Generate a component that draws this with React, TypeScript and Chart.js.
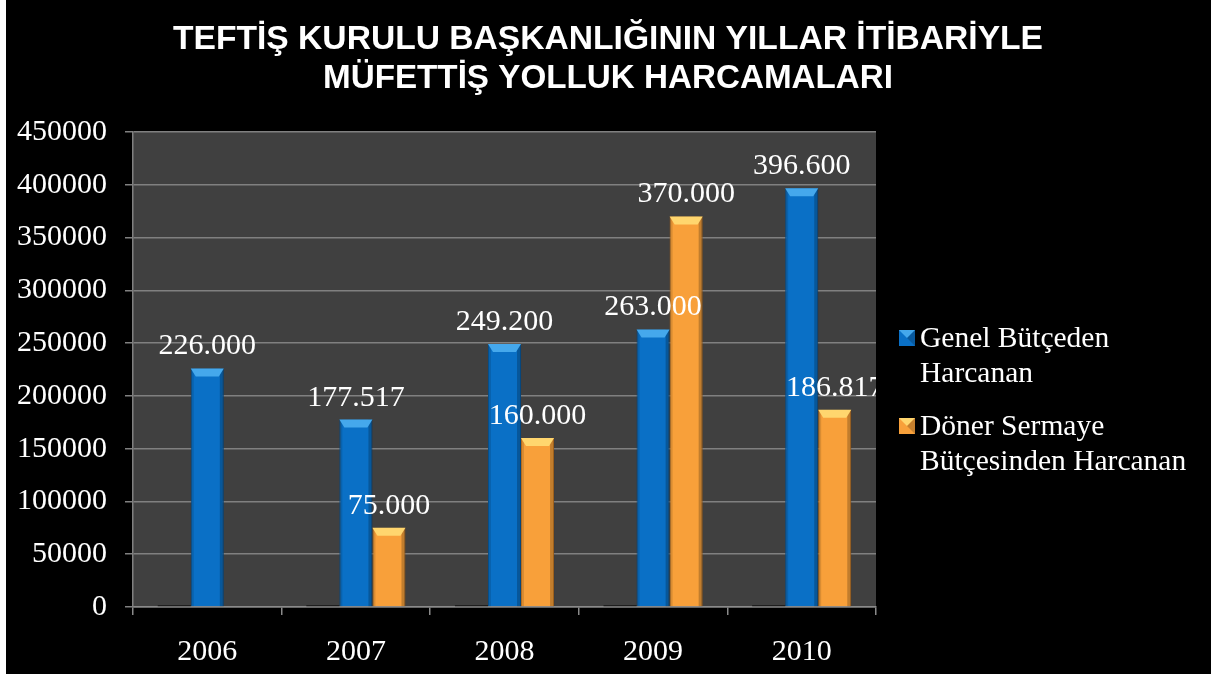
import React, { useEffect, useRef } from "react";
import { Chart, registerables } from "chart.js";

Chart.register(...registerables);

const categories = ["2006", "2007", "2008", "2009", "2010"];
const yearSeries = [2006, 2007, 2008, 2009, 2010];
const genelValues = [226000, 177517, 249200, 263000, 396600];
const donerValues = [0, 75000, 160000, 370000, 186817];
const legendLines = [
  ["Genel Bütçeden", "Harcanan"],
  ["Döner Sermaye", "Bütçesinden Harcanan"],
];
const titleLines = [
  "TEFTİŞ KURULU BAŞKANLIĞININ YILLAR İTİBARİYLE",
  "MÜFETTİŞ YOLLUK HARCAMALARI",
];

const SERIF = "'Liberation Serif', 'Times New Roman', serif";
const BLUE = "#0a70c6";
const BLUE_TOP = "#45a8ec";
const ORANGE = "#f8a03a";
const ORANGE_TOP = "#ffd66e";

function fmt(v: number) {
  return String(v).replace(/\B(?=(\d{3})+(?!\d))/g, ".");
}

const bgPlugin = {
  id: "bg",
  beforeDraw(chart: any) {
    const { ctx, chartArea: a, width, height } = chart;
    ctx.save();
    ctx.fillStyle = "#000";
    ctx.fillRect(0, 0, width, height);
    ctx.fillStyle = "#404040";
    ctx.fillRect(a.left, a.top, a.right - a.left, a.bottom - a.top);
    ctx.fillStyle = "#fff";
    ctx.fillRect(0, 0, 6, height);
    ctx.restore();
  },
};

const titlePlugin = {
  id: "customTitle",
  afterDraw(chart: any) {
    const { ctx } = chart;
    ctx.save();
    ctx.fillStyle = "#fff";
    ctx.font = "bold 34px 'Liberation Sans', Arial, sans-serif";
    ctx.textBaseline = "alphabetic";
    ctx.textAlign = "left";
    const targets = [870, 570];
    const baselines = [49, 88];
    const cx = 608;
    titleLines.forEach((t, i) => {
      const w = ctx.measureText(t).width;
      const s = targets[i] / w;
      ctx.save();
      ctx.translate(cx - targets[i] / 2, baselines[i]);
      ctx.scale(s, 1);
      ctx.fillText(t, 0, 0);
      ctx.restore();
    });
    ctx.restore();
  },
};

const bevelPlugin = {
  id: "bevel",
  afterDatasetsDraw(chart: any) {
    const { ctx } = chart;
    [1, 2].forEach((di) => {
      const meta = chart.getDatasetMeta(di);
      const topC = di === 1 ? BLUE_TOP : ORANGE_TOP;
      meta.data.forEach((bar: any) => {
        const { x, y, base, width } = bar.getProps(["x", "y", "base", "width"], true);
        const h = base - y;
        if (h <= 1) return;
        const l = x - width / 2;
        const r = x + width / 2;
        ctx.save();
        ctx.fillStyle = "rgba(0,0,0,0.12)";
        ctx.fillRect(l, y, 3, h);
        ctx.fillStyle = "rgba(0,0,0,0.22)";
        ctx.fillRect(r - 4, y, 4, h);
        const bh = Math.min(8, h);
        ctx.fillStyle = topC;
        ctx.beginPath();
        ctx.moveTo(l, y);
        ctx.lineTo(r, y);
        ctx.lineTo(r - 5, y + bh);
        ctx.lineTo(l + 5, y + bh);
        ctx.closePath();
        ctx.fill();
        ctx.restore();
      });
    });
  },
};

const labelPlugin = {
  id: "valueLabels",
  afterDatasetsDraw(chart: any) {
    const { ctx, chartArea: a } = chart;
    ctx.save();
    ctx.beginPath();
    ctx.rect(a.left, 0, a.right - a.left, a.bottom);
    ctx.clip();
    ctx.fillStyle = "#fff";
    ctx.font = `30px ${SERIF}`;
    ctx.textAlign = "center";
    ctx.textBaseline = "alphabetic";
    [1, 2].forEach((di) => {
      const meta = chart.getDatasetMeta(di);
      const vals = chart.data.datasets[di].data;
      meta.data.forEach((bar: any, i: number) => {
        const v = vals[i];
        if (!v) return;
        ctx.fillText(fmt(v), bar.x, bar.y - 14);
      });
    });
    ctx.restore();
  },
};

const legendPlugin = {
  id: "customLegend",
  afterDraw(chart: any) {
    const { ctx } = chart;
    ctx.save();
    ctx.font = `29.5px ${SERIF}`;
    ctx.fillStyle = "#fff";
    ctx.textBaseline = "middle";
    ctx.textAlign = "left";
    const colors = [
      [BLUE, BLUE_TOP],
      [ORANGE, ORANGE_TOP],
    ];
    const starts = [339, 427];
    legendLines.forEach((lines, i) => {
      const y0 = starts[i];
      const bx = 899;
      const by = y0 - 9;
      const s = 16;
      ctx.fillStyle = colors[i][0];
      ctx.fillRect(bx, by, s, s);
      ctx.fillStyle = colors[i][1];
      ctx.beginPath();
      ctx.moveTo(bx, by);
      ctx.lineTo(bx + s, by);
      ctx.lineTo(bx + s / 2, by + s / 2);
      ctx.closePath();
      ctx.fill();
      ctx.fillStyle = "rgba(0,0,0,0.2)";
      ctx.beginPath();
      ctx.moveTo(bx + s, by);
      ctx.lineTo(bx + s, by + s);
      ctx.lineTo(bx + s / 2, by + s / 2);
      ctx.closePath();
      ctx.fill();
      ctx.fillStyle = "#fff";
      lines.forEach((ln, j) => {
        ctx.fillText(ln, 920, y0 + j * 35);
      });
    });
    ctx.restore();
  },
};

export default function App() {
  const ref = useRef<HTMLCanvasElement | null>(null);
  useEffect(() => {
    document.body.style.margin = "0";
    document.body.style.background = "#000";
    if (!ref.current) return;
    const chart = new Chart(ref.current, {
      type: "bar",
      data: {
        labels: categories,
        datasets: [
          {
            label: "Yıl",
            data: yearSeries,
            backgroundColor: "#1e1e1e",
            borderWidth: 0,
          },
          {
            label: "Genel Bütçeden Harcanan",
            data: genelValues,
            backgroundColor: BLUE,
            borderColor: "#0a5a9e",
            borderWidth: 1,
          },
          {
            label: "Döner Sermaye Bütçesinden Harcanan",
            data: donerValues,
            backgroundColor: ORANGE,
            borderColor: "#d07d22",
            borderWidth: 1,
          },
        ],
      },
      options: {
        responsive: false,
        animation: false,
        layout: { padding: { left: 0, right: 335, top: 132, bottom: 0 } },
        datasets: { bar: { categoryPercentage: 0.667, barPercentage: 1 } },
        plugins: {
          legend: { display: false },
          title: { display: false },
          tooltip: { enabled: false },
        },
        scales: {
          x: {
            offset: true,
            grid: {
              display: true,
              offset: true,
              drawOnChartArea: false,
              drawTicks: true,
              tickLength: 8,
              color: "#8a8a8a",
              lineWidth: 1.5,
            },
            border: { display: true, color: "#8a8a8a", width: 1.5 },
            ticks: {
              color: "#fff",
              font: { family: SERIF, size: 30 },
              padding: 19,
            },
            afterFit(s: any) {
              s.height = 67;
            },
          },
          y: {
            min: 0,
            max: 450000,
            ticks: {
              stepSize: 50000,
              color: "#fff",
              font: { family: SERIF, size: 30 },
              padding: 18,
              callback: (v: any) => String(v),
            },
            grid: {
              color: "#808080",
              lineWidth: 1.5,
              tickLength: 8,
            },
            border: { display: true, color: "#808080", width: 1.5 },
            afterFit(s: any) {
              s.width = 133;
            },
          },
        },
      },
      plugins: [bgPlugin, bevelPlugin, labelPlugin, legendPlugin, titlePlugin],
    });
    return () => chart.destroy();
  }, []);
  return (
    <div style={{ width: 1211, height: 674 }}>
      <canvas ref={ref} width={1211} height={674} style={{ display: "block" }} />
    </div>
  );
}
